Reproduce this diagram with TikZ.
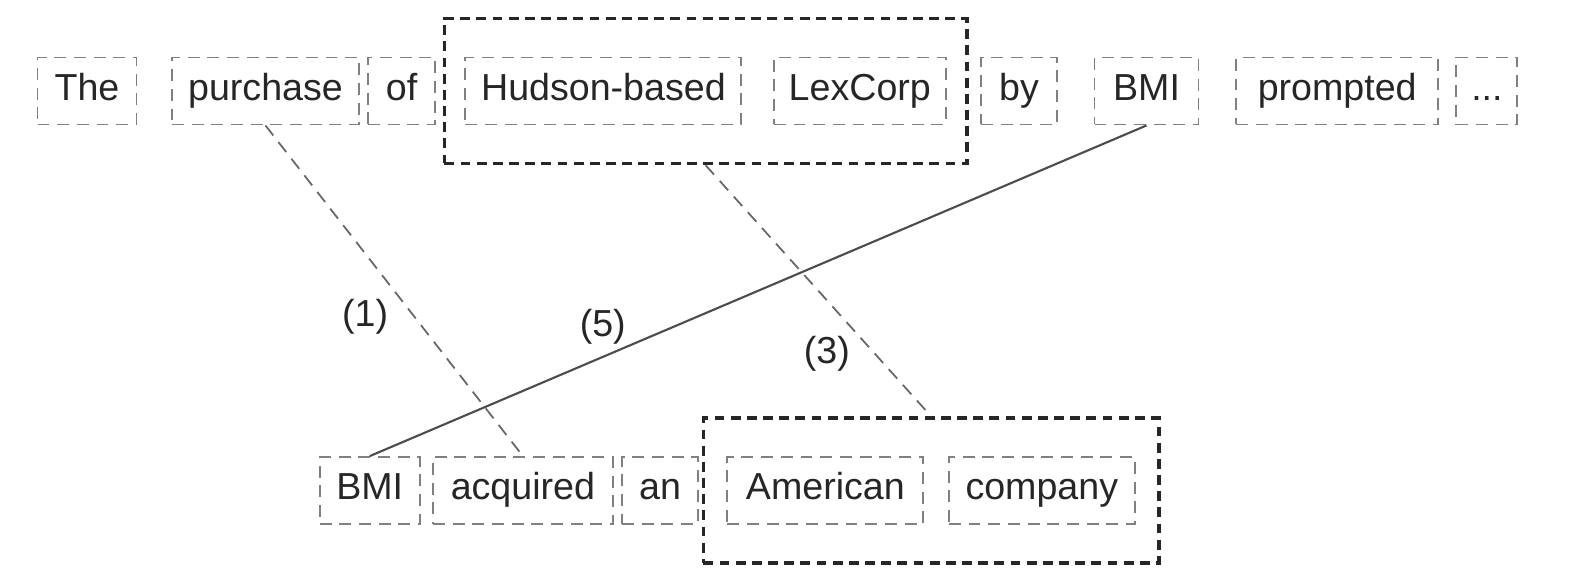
\documentclass[tikz,border=0pt]{standalone}
\usepackage{fontspec}
\setsansfont{Liberation Sans}
\usepackage{tikz}
\usetikzlibrary{positioning, fit}

\begin{document}
\begin{tikzpicture}[
    font=\sffamily\fontsize{10.7}{13}\selectfont,
    tok/.style={draw=black!50, line width=0.55pt, dash pattern=on 3.4pt off 2.2pt,
        text=black!85, text height=1.55ex, text depth=0.35ex,
        minimum height=0.67cm, inner xsep=0pt, minimum width=#1},
    span/.style={draw=black!85, line width=1pt, dash pattern=on 2.8pt off 1.8pt,
        inner xsep=0.2cm, inner ysep=0.38cm},
    align link/.style={draw=black!60, line width=0.5pt, dash pattern=on 3.6pt off 2.4pt},
    coref link/.style={draw=black!70, line width=0.6pt},
    lbl/.style={text=black!85}
]
\useasboundingbox (0,0) rectangle (15.86,5.78);

% Source sentence
\node[tok=0.99cm] (the) at (0.87,4.87) {The};
\node[tok=1.87cm] (purchase) at (2.655,4.87) {purchase};
\node[tok=0.67cm] (of) at (4.016,4.87) {of};
\node[tok=2.76cm] (hudson) at (6.034,4.87) {Hudson-based};
\node[tok=1.72cm] (lexcorp) at (8.598,4.87) {LexCorp};
\node[tok=0.76cm] (by) at (10.19,4.87) {by};
\node[tok=1.04cm] (bmiT) at (11.465,4.87) {BMI};
\node[tok=2.02cm] (prompted) at (13.372,4.87) {prompted};
\node[tok=0.61cm] (dots) at (14.869,4.87) {...};

% Target sentence
\node[tok=1.0cm] (bmiB) at (3.697,0.874) {BMI};
\node[tok=1.8cm] (acquired) at (5.229,0.874) {acquired};
\node[tok=0.76cm] (an) at (6.60,0.874) {an};
\node[tok=1.96cm] (american) at (8.254,0.874) {American};
\node[tok=1.86cm] (company) at (10.418,0.874) {company};

% Phrase spans
\node[span, fit=(hudson)(lexcorp)] (spanT) {};
\node[span, inner xsep=0.23cm, fit=(american)(company)] (spanB) {};

% Links
\draw[align link] (purchase.south) -- (acquired.north)
    node[lbl, pos=0.58, left=4pt] {(1)};
\draw[align link] (spanT.south) -- (spanB.north)
    node[lbl, pos=0.75, left=3.5pt] {(3)};
\draw[coref link] (bmiT.south) -- (bmiB.north)
    node[lbl, pos=0.7, above=0pt] {(5)};

\end{tikzpicture}
\end{document}
